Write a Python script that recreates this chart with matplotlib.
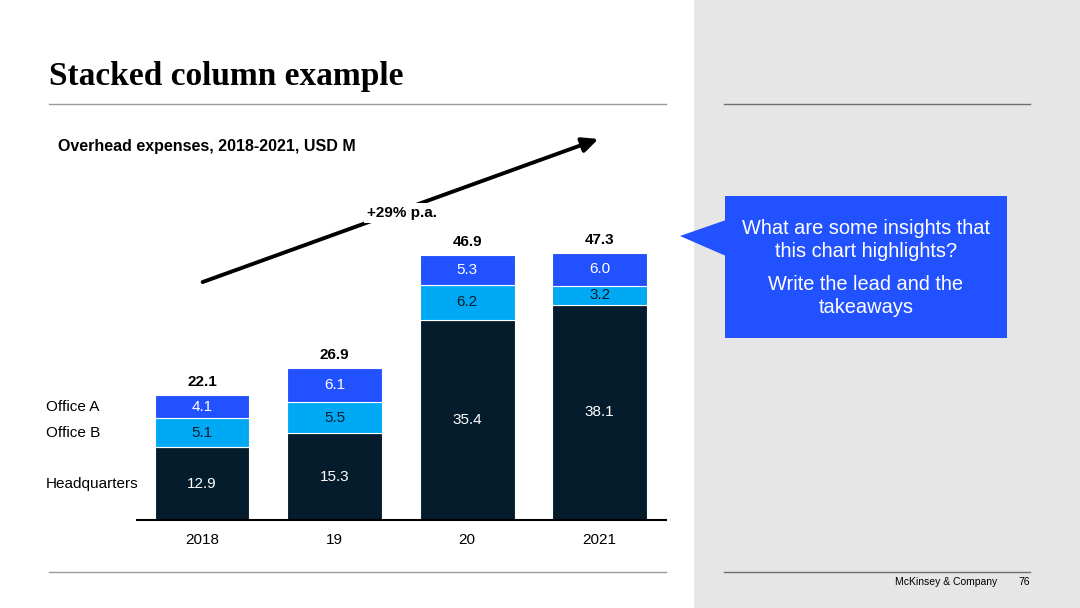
import numpy as np
import matplotlib
matplotlib.use("Agg")
import matplotlib.pyplot as plt
from matplotlib.patches import Polygon, Rectangle, FancyArrowPatch
import matplotlib.transforms as mtransforms

plt.rcParams['font.family'] = ['Liberation Sans', 'DejaVu Sans']

years = ["2018", "19", "20", "2021"]
headquarters = [12.9, 15.3, 35.4, 38.1]
office_b = [5.1, 5.5, 6.2, 3.2]
office_a = [4.1, 6.1, 5.3, 6.0]
totals = [22.1, 26.9, 46.9, 47.3]
series_names = ["Headquarters", "Office B", "Office A"]

navy = "#051C2C"
cyan = "#00A9F4"
blue = "#2251FF"
grey_panel = "#E6E6E6"

W, H = 1080, 608
fig = plt.figure(figsize=(W / 100, H / 100), dpi=100)


def px(x, y):
    # pixel position -> figure fraction
    return x / W, 1 - y / H


# grey side panel
fig.patches.append(Rectangle(px(694, 608), (W - 694) / W, 1, transform=fig.transFigure,
                             facecolor=grey_panel, edgecolor="none", zorder=0))

# title and rules
fig.text(*px(49, 77), "Stacked column example", family="Liberation Serif", fontweight="bold",
         fontsize=24, va="center", ha="left")
for y in (104, 572):
    fig.add_artist(plt.Line2D([49 / W, 666 / W], [1 - y / H] * 2, color="#9a9a9a", lw=1))
    fig.add_artist(plt.Line2D([724 / W, 1030 / W], [1 - y / H] * 2, color="#6f6f6f", lw=1))

fig.text(*px(58, 147), "Overhead expenses, 2018-2021, USD M", fontweight="bold",
         fontsize=11.5, va="center", ha="left")

# chart axes
ax = fig.add_axes([137 / W, (H - 520) / H, (666 - 137) / W, 400 / H])
x = np.arange(len(years))
bw = 0.716
ax.bar(x, headquarters, bw, color=navy, edgecolor="white", linewidth=0.8)
ax.bar(x, office_b, bw, bottom=headquarters, color=cyan, edgecolor="white", linewidth=0.8)
bottom_a = np.array(headquarters) + np.array(office_b)
ax.bar(x, office_a, bw, bottom=bottom_a, color=blue, edgecolor="white", linewidth=0.8)

for i in range(len(years)):
    ax.text(x[i], headquarters[i] / 2, f"{headquarters[i]:.1f}", color="white",
            ha="center", va="center", fontsize=11)
    ax.text(x[i], headquarters[i] + office_b[i] / 2, f"{office_b[i]:.1f}", color=navy,
            ha="center", va="center", fontsize=11)
    ax.text(x[i], bottom_a[i] + office_a[i] / 2, f"{office_a[i]:.1f}", color="white",
            ha="center", va="center", fontsize=11)
    ax.text(x[i], totals[i] + 2.3, f"{totals[i]:.1f}", color="black", fontweight="bold",
            ha="center", va="center", fontsize=11)

ax.set_xlim(-0.49, 3.5)
ax.set_ylim(0, 400 / 5.655)
ax.set_xticks(x)
ax.set_xticklabels(years, fontsize=11)
ax.tick_params(axis="x", length=0, pad=9)
ax.set_yticks([])
for s in ("left", "right", "top"):
    ax.spines[s].set_visible(False)
ax.spines["bottom"].set_linewidth(1.5)
ax.patch.set_visible(False)

# series labels on the left, next to the first column
trans = mtransforms.blended_transform_factory(fig.transFigure, ax.transData)
mids = [headquarters[0] / 2, headquarters[0] + office_b[0] / 2, bottom_a[0] + office_a[0] / 2]
for name, m in zip(series_names, mids):
    fig.text(46 / W, m, name, transform=trans, ha="left", va="center", fontsize=11)

# growth arrow
fig.add_artist(FancyArrowPatch(px(200, 283), px(601, 138), transform=fig.transFigure,
                               arrowstyle="-|>,head_length=6,head_width=2.8",
                               mutation_scale=1.6, color="black", lw=2.8))
fig.text(*px(402, 213), "+29% p.a.", fontweight="bold", fontsize=11, ha="center", va="center",
         bbox=dict(facecolor="white", edgecolor="none", pad=2))

# callout box
fig.patches.append(Rectangle(px(725, 338), (1007 - 725) / W, (338 - 196) / H,
                             transform=fig.transFigure, facecolor=blue, edgecolor="none"))
fig.patches.append(Polygon([px(726, 220), px(680, 236), px(726, 256)], closed=True,
                           transform=fig.transFigure, facecolor=blue, edgecolor="none"))
fig.text(*px(866, 240), "What are some insights that\nthis chart highlights?", color="white",
         fontsize=14.4, ha="center", va="center", linespacing=1.3)
fig.text(*px(866, 296), "Write the lead and the\ntakeaways", color="white",
         fontsize=14.4, ha="center", va="center", linespacing=1.3)

# footer
fig.text(*px(997, 582), "McKinsey & Company", fontsize=7.5, ha="right", va="center")
fig.text(*px(1030, 582), "76", fontsize=7.5, ha="right", va="center")

fig.savefig("out.png", dpi=100)
